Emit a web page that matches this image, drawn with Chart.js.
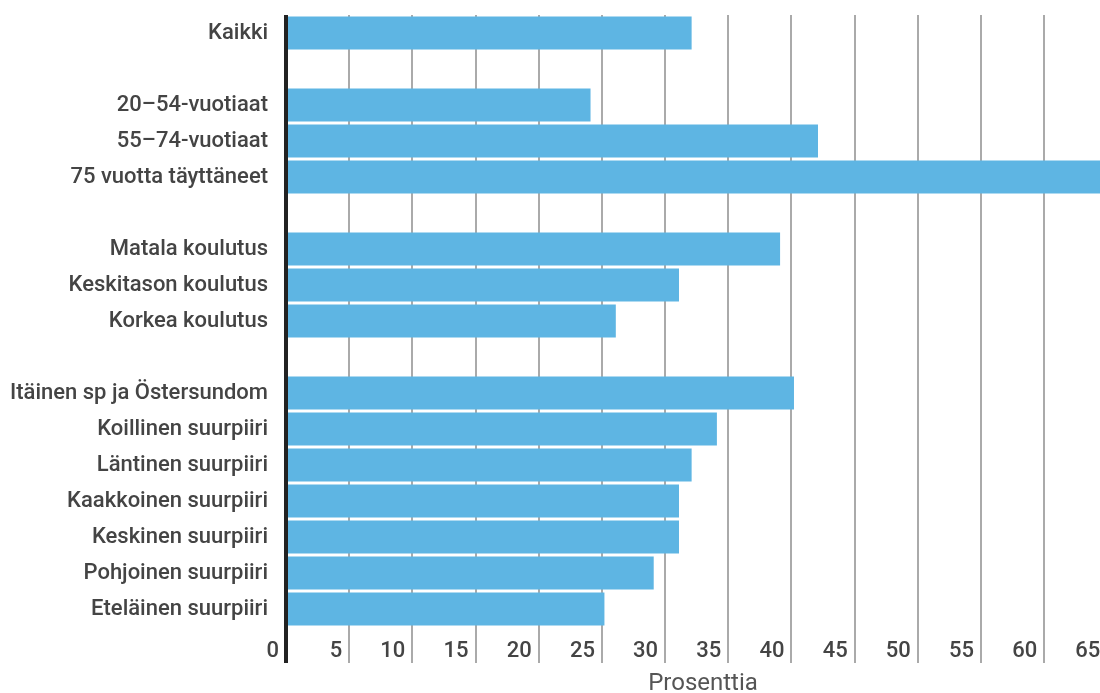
<!DOCTYPE html>
<html>
<head>
    <title>Prosenttia</title>
    <script src="https://cdn.jsdelivr.net/npm/chart.js"></script>
    <style>
        html, body { margin: 0; padding: 0; overflow: hidden; background: #fff; }
    </style>
</head>
<body>
    <canvas id="myChart" width="1120" height="705"></canvas>

    <script>
        // ryhmät erotetaan tyhjillä riveillä
        var categories = [
            "Kaikki",
            "",
            "20\u201354-vuotiaat",
            "55\u201374-vuotiaat",
            "75 vuotta täyttäneet",
            "",
            "Matala koulutus",
            "Keskitason koulutus",
            "Korkea koulutus",
            "",
            "Itäinen sp ja Östersundom",
            "Koillinen suurpiiri",
            "Läntinen suurpiiri",
            "Kaakkoinen suurpiiri",
            "Keskinen suurpiiri",
            "Pohjoinen suurpiiri",
            "Eteläinen suurpiiri"
        ];
        var values = [32.1, null, 24.1, 42.1, 67, null, 39.1, 31.1, 26.1, null, 40.2, 34.1, 32.1, 31.1, 31.1, 29.1, 25.2];
        var tickValues = [0, 5, 10, 15, 20, 25, 30, 35, 40, 45, 50, 55, 60, 65];
        var axisTitle = "Prosenttia";

        var textColor = "#444";
        var fontFamily = "Roboto, 'Noto Sans', sans-serif";

        var ctx = document.getElementById("myChart").getContext("2d");
        new Chart(ctx, {
            type: "bar",
            data: {
                labels: categories,
                datasets: [{
                    data: values,
                    backgroundColor: "#5eb5e3",
                    borderWidth: 0,
                    barPercentage: 0.92,
                    categoryPercentage: 1
                }]
            },
            options: {
                indexAxis: "y",
                responsive: false,
                animation: false,
                layout: { padding: { top: 15, left: 0, right: 0, bottom: 0 } },
                plugins: {
                    legend: { display: false },
                    tooltip: { enabled: false }
                },
                scales: {
                    x: {
                        min: 0,
                        max: 66,
                        afterBuildTicks: function (scale) {
                            scale.ticks = tickValues.map(function (v) { return { value: v }; });
                        },
                        afterFit: function (scale) {
                            scale.height = 78;
                        },
                        border: { display: false },
                        grid: {
                            color: function (c) { return c.tick && c.tick.value === 0 ? "#222" : "#aaa"; },
                            lineWidth: function (c) { return c.tick && c.tick.value === 0 ? 4 : 2; },
                            tickLength: 36
                        },
                        ticks: {
                            align: "end",
                            labelOffset: -7,
                            padding: -25,
                            color: textColor,
                            font: { family: fontFamily, size: 22, weight: 500 }
                        },
                        title: {
                            display: true,
                            text: axisTitle,
                            color: "#555",
                            font: { family: fontFamily, size: 24 },
                            padding: { top: 0, bottom: 7 }
                        }
                    },
                    y: {
                        afterFit: function (scale) {
                            scale.width = 286;
                            scale.paddingTop = 0;
                            scale.paddingBottom = 0;
                        },
                        border: { display: false },
                        grid: { display: false, drawTicks: false },
                        ticks: {
                            padding: 18,
                            color: textColor,
                            font: { family: fontFamily, size: 22, weight: 500 },
                            autoSkip: false
                        }
                    }
                }
            }
        });
    </script>
</body>
</html>
